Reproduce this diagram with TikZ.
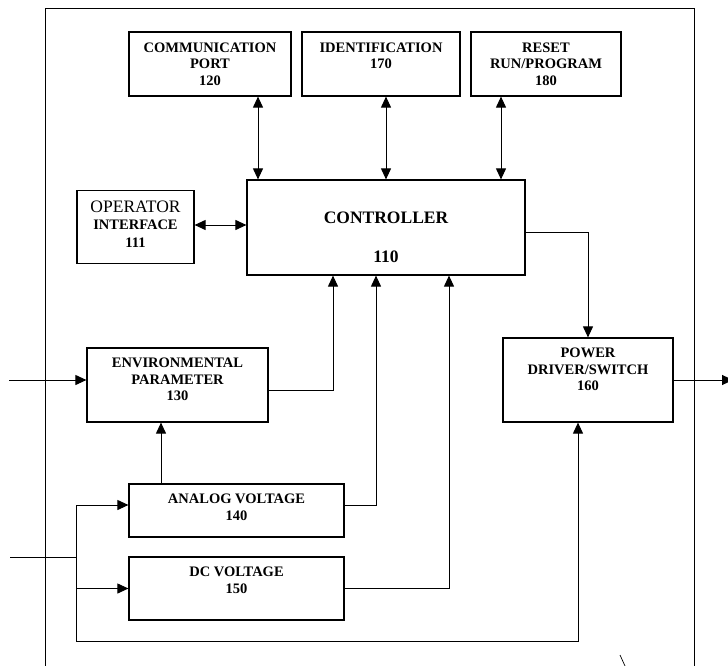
\documentclass[tikz,border=0pt]{standalone}
\usepackage{fontspec}
\setmainfont{Liberation Serif}
\usetikzlibrary{arrows.meta}

\begin{document}
\begin{tikzpicture}[x=1pt, y=-1pt, line width=1pt,
  >={Triangle[length=11pt,width=10pt]},
  box/.style={draw, line width=1.2pt, inner sep=0pt},
  tag/.style={align=center, inner sep=0pt, anchor=north, yshift=#1,
    font=\bfseries\fontsize{14.5}{16.5}\selectfont},
  tag/.default=-11pt]
\useasboundingbox (0,0) rectangle (728,666);
\draw (45,666) -- (45,9) -- (694,9) -- (694,666);
\node[box, minimum width=162pt, minimum height=64pt, label={[tag]north:{COMMUNICATION\\PORT\\120}}] (comm) at (210,64) {};
\node[box, minimum width=158pt, minimum height=64pt, label={[tag]north:{IDENTIFICATION\\170}}] (ident) at (381,64) {};
\node[box, minimum width=150pt, minimum height=64pt, label={[tag]north:{RESET\\RUN/PROGRAM\\180}}] (reset) at (546,64) {};
\node[box, minimum width=278pt, minimum height=95pt, label={[tag=-32pt, font=\bfseries\fontsize{17.5}{20}\selectfont]north:{CONTROLLER\\[19pt]110}}] (ctrl) at (386,227.5) {};
\node[box, minimum width=117pt, minimum height=73pt, label={[tag]north:{{\mdseries\fontsize{17.5}{19}\selectfont OPERATOR}\\INTERFACE\\[2pt]111}}] (oper) at (135.5,227) {};
\node[box, minimum width=181pt, minimum height=74pt, label={[tag=-10pt]north:{ENVIRONMENTAL\\PARAMETER\\130}}] (env) at (177.5,385) {};
\node[box, minimum width=170pt, minimum height=84pt, label={[tag=-10pt]north:{POWER\\DRIVER/SWITCH\\160}}] (power) at (588,380) {};
\node[box, minimum width=215pt, minimum height=53pt, label={[tag=-10pt]north:{ANALOG VOLTAGE\\140}}] (analog) at (236.5,510.5) {};
\node[box, minimum width=215pt, minimum height=63pt, label={[tag=-10pt]north:{DC VOLTAGE\\150}}] (dc) at (236.5,588.5) {};
\coordinate (envin) at (9,380);
\coordinate (vin) at (10,557);
\coordinate (split) at (76,557);
\coordinate (loop) at (76,641);
\coordinate (pout) at (733,380);
\draw[<->] ([xshift=48pt]comm.south) -- ([xshift=48pt]comm.south |- ctrl.north);
\draw[<->] ([xshift=5pt]ident.south) -- ([xshift=5pt]ident.south |- ctrl.north);
\draw[<->] ([xshift=-45pt]reset.south) -- ([xshift=-45pt]reset.south |- ctrl.north);
\draw[<->] ([yshift=2pt]oper.east) -- ([yshift=2pt]oper.east -| ctrl.west);
\draw[->] ([yshift=-4.5pt]ctrl.east) -| (power.north);
\draw[->] (envin) -- ([yshift=5pt]env.west);
\draw[->] ([yshift=-5pt]env.east) -| ([xshift=-53pt]ctrl.south);
\draw[->] ([xshift=-75.5pt]analog.north) -- ([xshift=-75.5pt]analog.north |- env.south);
\draw[->] ([yshift=5.5pt]analog.east) -| ([xshift=-10pt]ctrl.south);
\draw[->] (dc.east) -| ([xshift=63pt]ctrl.south);
\draw (vin) -- (split);
\draw[->] (split) |- ([yshift=5.5pt]analog.west);
\draw[->] (split) |- (dc.west);
\draw[->] (split) -- (loop) -| ([xshift=-10pt]power.south);
\draw[->] (power.east) -- (pout);
\draw[line width=0.7pt] (620,655) -- (625,666);
\end{tikzpicture}
\end{document}
